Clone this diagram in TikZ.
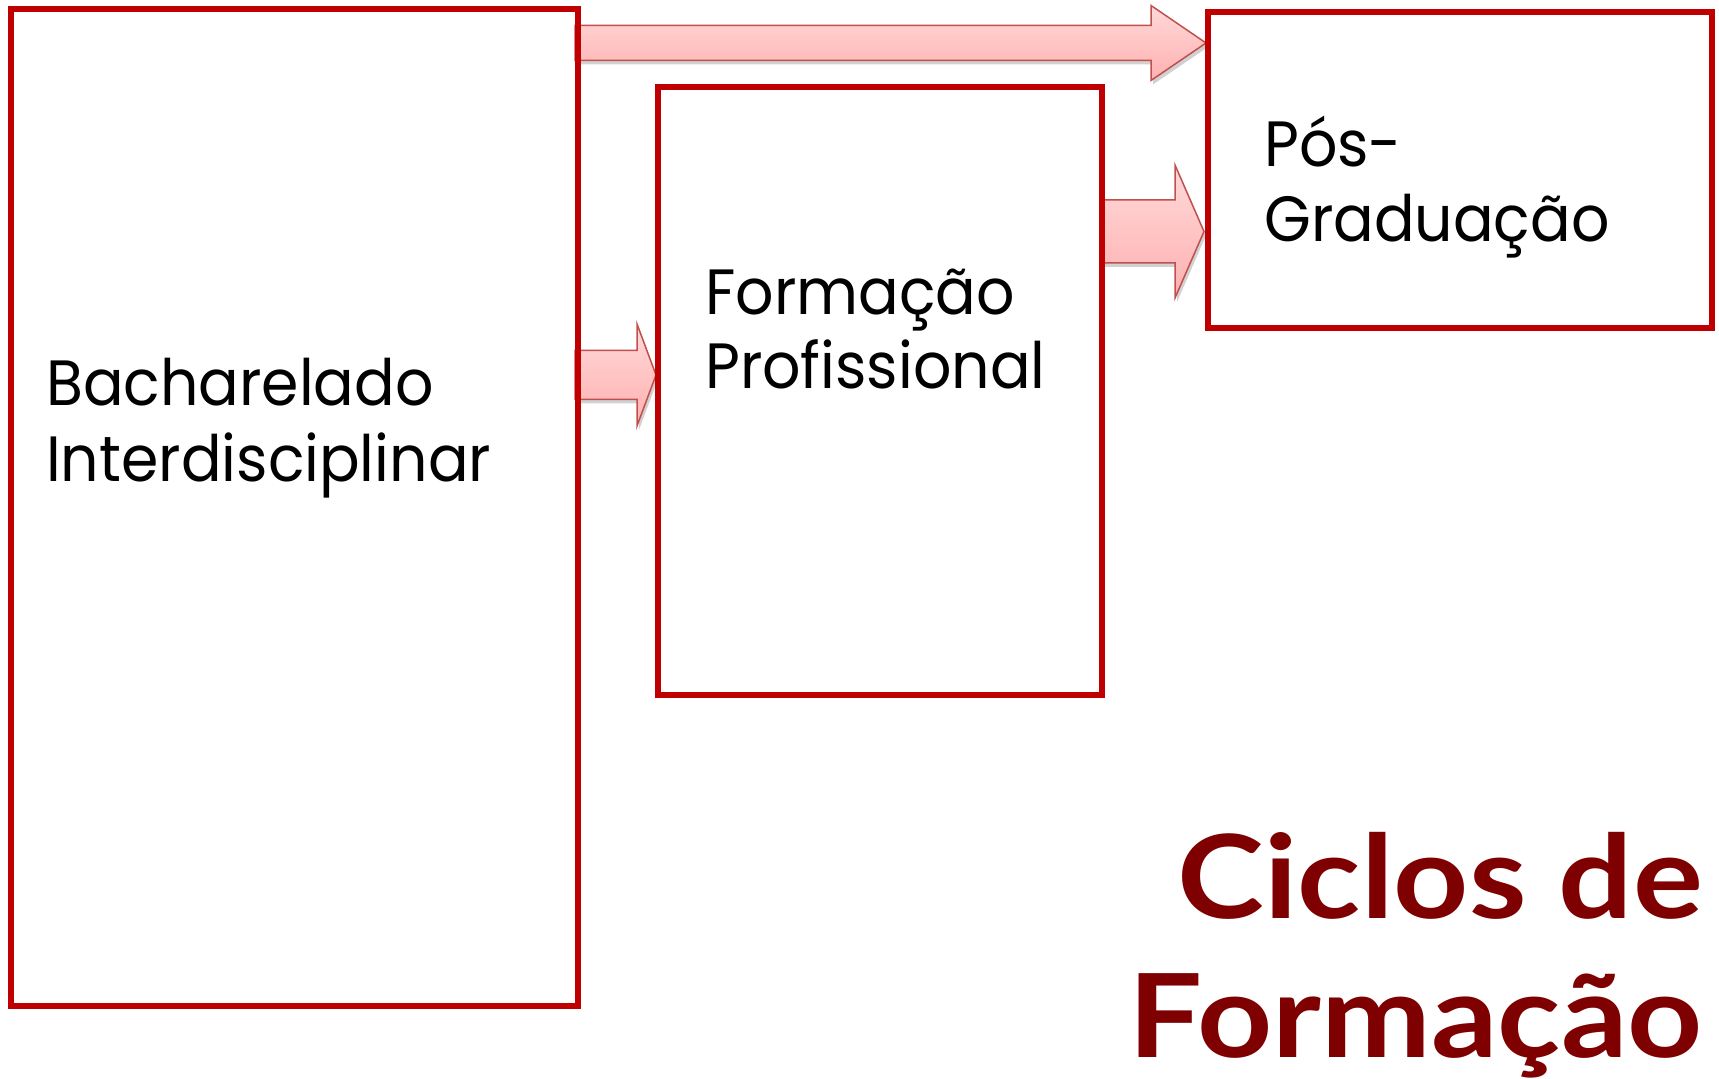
\documentclass[tikz,border=0pt]{standalone}
\usepackage{fontspec}
\setmainfont{Poppins}
\newfontfamily\bodyfont[FakeStretch=0.94]{Poppins}
\newfontfamily\titlefont[FakeStretch=1.13]{Lato}
\definecolor{boxred}{HTML}{C00000}
\definecolor{titlered}{HTML}{7F0000}
\definecolor{arrowline}{HTML}{C0504D}
\definecolor{arrowtop}{HTML}{FFD9D9}
\definecolor{arrowbot}{HTML}{FFB0B0}
\newcommand{\blockarr}[6]{%
  \begin{scope}[shift={(2,-4)}]
    \fill[black,opacity=0.18] (#1,#4+#5) -- (#2,#4+#5) -- (#2,#4+#6) -- (#3,#4) -- (#2,#4-#6) -- (#2,#4-#5) -- (#1,#4-#5) -- cycle;
  \end{scope}
  \shade[top color=arrowtop, bottom color=arrowbot, draw=arrowline, line width=1.5pt, line join=miter]
    (#1,#4+#5) -- (#2,#4+#5) -- (#2,#4+#6) -- (#3,#4) -- (#2,#4-#6) -- (#2,#4-#5) -- (#1,#4-#5) -- cycle;
}
\begin{document}
\begin{tikzpicture}[x=1pt,y=1pt,
  cyclebox/.style={draw=boxred, line width=6pt, rectangle, inner sep=0pt, outer sep=0pt, anchor=north west},
  bodytext/.style={anchor=base west, inner sep=0pt, font=\bodyfont\fontsize{64}{70}\selectfont, text=black},
  titletext/.style={anchor=base east, inner sep=0pt, font=\titlefont\bfseries\fontsize{116}{120}\selectfont, text=titlered}]
\useasboundingbox (0,0) rectangle (1719,1079);
% arrows (behind boxes)
\blockarr{575}{1151}{1206}{1036}{17.5}{37.5}
\blockarr{575}{637}{656}{704}{24.5}{51}
\blockarr{1100}{1175}{1204}{847.5}{31.5}{66.5}
% boxes
\node[cyclebox, minimum width=567pt, minimum height=997pt] (bach) at (11,1070) {};
\node[cyclebox, minimum width=444pt, minimum height=608pt] (form) at (658,992) {};
\node[cyclebox, minimum width=504pt, minimum height=316pt] (pos) at (1208,1067) {};
% texts
\node[bodytext] (bach1) at (46,673) {Bacharelado};
\node[bodytext] (bach2) at (46,597) {Interdisciplinar};
\node[bodytext] (form1) at (705,764) {Formação};
\node[bodytext] (form2) at (705,690) {Profissional};
\node[bodytext] (pos1) at (1264,912) {Pós-};
\node[bodytext] (pos2) at (1264,837) {Graduação};
\node[titletext] (t1) at (1703,160) {Ciclos de};
\node[titletext] (t2) at (1703,21) {Formação};
\end{tikzpicture}
\end{document}
